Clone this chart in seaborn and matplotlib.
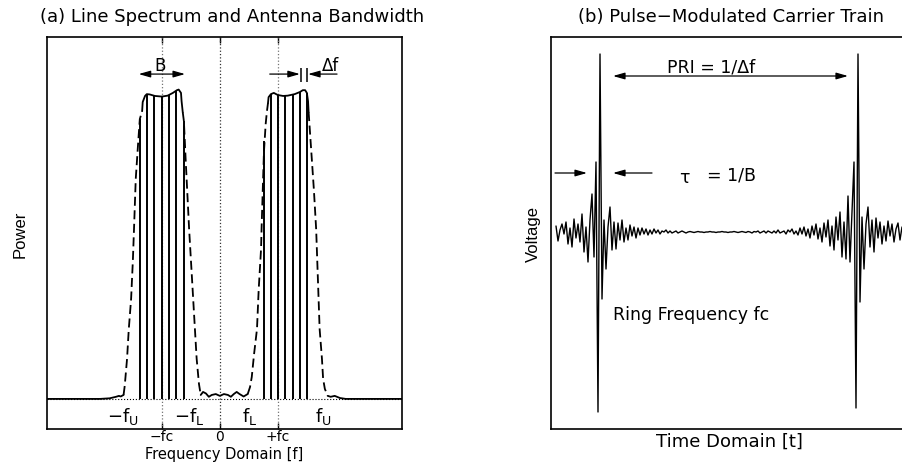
import numpy as np
import matplotlib
matplotlib.use("Agg")
import matplotlib.pyplot as plt
import seaborn as sns

sns.set_theme(style="white")
plt.rcParams["font.family"] = ["DejaVu Sans"]
plt.rcParams["mathtext.fontset"] = "dejavusans"
plt.rcParams["text.color"] = "black"
plt.rcParams["axes.labelcolor"] = "black"
plt.rcParams["xtick.color"] = "black"

# ---- (a) line spectrum: envelope pieces ----
# f in units of fc, power normalised to the passband level
tail_l_f = [-2.98, -2.07, -1.90, -1.79, -1.74, -1.71, -1.66]
tail_l_p = [0, 0, 0.002, 0.007, 0.010, 0.008, 0.013]

skirt1_l_f = [-1.66, -1.64, -1.60, -1.57, -1.53, -1.50, -1.48, -1.45, -1.41, -1.38, -1.34]
skirt1_l_p = [0.013, 0.043, 0.132, 0.230, 0.329, 0.454, 0.559, 0.724, 0.839, 0.921, 0.947]

top1_f = [-1.34, -1.33, -1.29, -1.26, -1.21, -1.12, -1.00, -0.90, -0.81, -0.74, -0.71, -0.67, -0.66, -0.64]
top1_p = [0.947, 0.977, 0.997, 1.003, 1.002, 0.997, 0.995, 0.998, 1.007, 1.016, 1.018, 1.007, 0.980, 0.944]

skirt1_r_f = [-0.64, -0.62, -0.59, -0.53, -0.48, -0.43, -0.40, -0.36, -0.33]
skirt1_r_p = [0.944, 0.914, 0.789, 0.559, 0.395, 0.230, 0.132, 0.049, 0.013]

middle_f = [-0.33, -0.29, -0.24, -0.19, -0.14, -0.07, 0.00, 0.07, 0.14, 0.19, 0.24, 0.29, 0.34, 0.41, 0.48]
middle_p = [0.013, 0.023, 0.018, 0.007, 0.013, 0.016, 0.010, 0.016, 0.013, 0.007, 0.016, 0.023, 0.016, 0.008, 0.016]

skirt2_l_f = [0.48, 0.52, 0.55, 0.59, 0.64, 0.67, 0.71, 0.72, 0.74, 0.76, 0.79, 0.81, 0.83]
skirt2_l_p = [0.016, 0.039, 0.072, 0.148, 0.230, 0.362, 0.493, 0.566, 0.691, 0.813, 0.905, 0.944, 0.974]

top2_f = [0.83, 0.84, 0.88, 0.93, 1.00, 1.09, 1.17, 1.29, 1.38, 1.43, 1.47, 1.50, 1.52, 1.53]
top2_p = [0.974, 0.993, 1.003, 1.007, 1.000, 0.997, 0.998, 1.003, 1.010, 1.016, 1.016, 1.007, 0.980, 0.944]

skirt2_r_f = [1.53, 1.57, 1.62, 1.66, 1.69, 1.72, 1.76, 1.78, 1.81, 1.86]
skirt2_r_p = [0.944, 0.832, 0.691, 0.559, 0.395, 0.230, 0.132, 0.066, 0.033, 0.010]

tail_r_f = [1.86, 1.91, 1.98, 2.07, 2.17, 3.14]
tail_r_p = [0.010, 0.007, 0.010, 0.003, 0, 0]

# spectral lines
lines_f = [-1.38, -1.25, -1.13, -1.00, -0.87, -0.75, -0.62,
           0.76, 0.88, 1.01, 1.13, 1.26, 1.38, 1.51]
lines_p = [0.92, 1.00, 1.00, 0.995, 1.00, 1.013, 0.914,
           0.85, 1.003, 1.00, 0.998, 1.003, 1.01, 1.007]

freq_ticks = [-1, 0, 1]
freq_ticklabels = ["\u2212fc", "0", "+fc"]

# ---- (b) pulse train voltage, one sample every 2 time units ----
volt = [6, -9, 2, 8, -2, 10, -12, 4, -15, 13,
        -6, 8, -10, 18, -20, 5, -30, 12, 38, -25,
        70, -180, 178, -67, 12, -37, 5, 25, -18, 10,
        -17, 9, -8, 12, -10, 4, -8, 7, -4, 5,
        -6, 4, -3, 4, -2, 3, -3, 2, -2, 3,
        -1, 2, -2, 1, 0, 2, -1, 1, -1, 0,
        1, -1, 0, 1, 0, -1, 0, 0.5, 0, -0.5,
        0, 0.5, 0, 0, -0.5, 0, 0, 0.5, 0, 0,
        -0.5, 0, 0, 0.5, 0, 0, -0.5, 0, 0, 0.5,
        0, -0.5, 0, 0.5, 0, -0.5, 0.5, 0, -1, 0.5,
        0, 1, -1, 0, 1, -1, 1, 0, -1, 1,
        -1, 2, -1, 0, 1, -2, 2, 0, 3, -2,
        1, -3, 4, -2, 5, -4, 3, -6, 6, -3,
        8, -7, 4, -10, 9, -5, 12, -14, 6, -18,
        15, -8, 20, -25, 10, -27, 36, -30, 20, 70,
        -176, 178, -70, 15, -37, 8, 25, -15, 12, -20,
        14, -6, 10, -12, 6, -9, 11, -4, 8, -10,
        3, 9, -8, 5, -6]
t = np.arange(len(volt)) - 22

fig = plt.figure(figsize=(9.02, 4.64), dpi=100)
ax1 = fig.add_axes([47 / 902, 34 / 464, 355 / 902, 392 / 464])
ax2 = fig.add_axes([551 / 902, 34 / 464, 356 / 902, 392 / 464])

narrow = ["Liberation Sans Narrow", "Liberation Sans"]

# ---------------- panel (a) ----------------
ax1.axhline(0, color="black", ls=":", lw=0.8, zorder=1)
for xv in freq_ticks:
    ax1.axvline(xv, color="0.45" if xv else "0.2", ls=":", lw=0.9, zorder=1)

solid = [(tail_l_f, tail_l_p), (top1_f, top1_p), (middle_f, middle_p),
         (top2_f, top2_p), (tail_r_f, tail_r_p)]
dashed = [(skirt1_l_f, skirt1_l_p), (skirt1_r_f, skirt1_r_p),
          (skirt2_l_f, skirt2_l_p), (skirt2_r_f, skirt2_r_p)]
for xs, ys in solid:
    sns.lineplot(x=xs, y=ys, ax=ax1, color="black", lw=1.3, sort=False, estimator=None)
for xs, ys in dashed:
    sns.lineplot(x=xs, y=ys, ax=ax1, color="black", lw=1.3, sort=False, estimator=None,
                 linestyle=(0, (5, 2.5)))
ax1.vlines(lines_f, 0, lines_p, color="black", lw=1.4)

ax1.set_xlim(-2.98, 3.14)
ax1.set_ylim(-0.099, 1.191)
ax1.set_xticks(freq_ticks)
ax1.set_xticklabels(freq_ticklabels, fontsize=10)
ax1.set_yticks([])
ax1.tick_params(axis="x", direction="in", top=True, bottom=True, length=4, width=1, pad=0)
ax1.set_xlabel("Frequency Domain [f]", fontsize=10.5, va="top")
ax1.xaxis.set_label_coords(0.5, -0.0435)
ax1.text(-0.076, 0.5, "Power", transform=ax1.transAxes, rotation=90, ha="center", va="center",
         fontsize=12, family=narrow)
ax1.text(0.52, 1.054, "(a) Line Spectrum and Antenna Bandwidth", transform=ax1.transAxes,
         ha="center", va="center", fontsize=13)

arrow = dict(arrowstyle="-|>,head_length=0.7,head_width=0.2", color="black", lw=0.9,
             shrinkA=0, shrinkB=0, mutation_scale=10)
arrow2 = dict(arrowstyle="<|-|>,head_length=0.7,head_width=0.2", color="black", lw=0.9,
              shrinkA=0, shrinkB=0, mutation_scale=10)
ax1.annotate("", xy=(-0.60, 1.069), xytext=(-1.40, 1.069), arrowprops=arrow2)
ax1.text(-1.03, 1.10, "B", ha="center", va="center", fontsize=12)
ax1.annotate("", xy=(1.38, 1.069), xytext=(0.86, 1.069), arrowprops=arrow)
ax1.annotate("", xy=(1.52, 1.069), xytext=(2.02, 1.069), arrowprops=arrow)
ax1.vlines([1.40, 1.50], 1.043, 1.090, color="black", lw=1.1)
ax1.text(1.91, 1.10, "\u0394f", ha="center", va="center", fontsize=12)

for lab, xv in [(r"$\mathrm{-f_U}$", -1.67), (r"$\mathrm{-f_L}$", -0.52),
                (r"$\mathrm{f_L}$", 0.52), (r"$\mathrm{f_U}$", 1.78)]:
    ax1.text(xv, -0.056, lab, ha="center", va="center", fontsize=13)

# ---------------- panel (b) ----------------
sns.lineplot(x=t, y=volt, ax=ax2, color="black", lw=1.0)
ax2.set_xlim(-24.5, 153.5)
ax2.set_ylim(-197, 195)
ax2.set_xticks([])
ax2.set_yticks([])
ax2.set_xlabel("Time Domain [t]", fontsize=13, labelpad=2)
ax2.text(-0.048, 0.5, "Voltage", transform=ax2.transAxes, rotation=90, ha="center", va="center",
         fontsize=12, family=narrow)
ax2.text(0.506, 1.054, "(b) Pulse\u2212Modulated Carrier Train", transform=ax2.transAxes,
         ha="center", va="center", fontsize=13)

ax2.annotate("", xy=(124, 156), xytext=(6.5, 156), arrowprops=arrow2)
ax2.text(55.5, 166, "PRI = 1/\u0394f", ha="center", va="center", fontsize=12.5)
ax2.annotate("", xy=(-6.5, 59), xytext=(-22.5, 59), arrowprops=arrow)
ax2.annotate("", xy=(6.5, 59), xytext=(26, 59), arrowprops=arrow)
ax2.text(42, 55, "\u03c4", ha="center", va="center", fontsize=12.5)
ax2.text(53.5, 58, "= 1/B", ha="left", va="center", fontsize=12.5)
ax2.text(6.5, -82, "Ring Frequency fc", ha="left", va="center", fontsize=12.5)

for ax in (ax1, ax2):
    for s in ax.spines.values():
        s.set_color("black")
        s.set_linewidth(1.2)

fig.savefig("out.png", dpi=100, facecolor="white")
